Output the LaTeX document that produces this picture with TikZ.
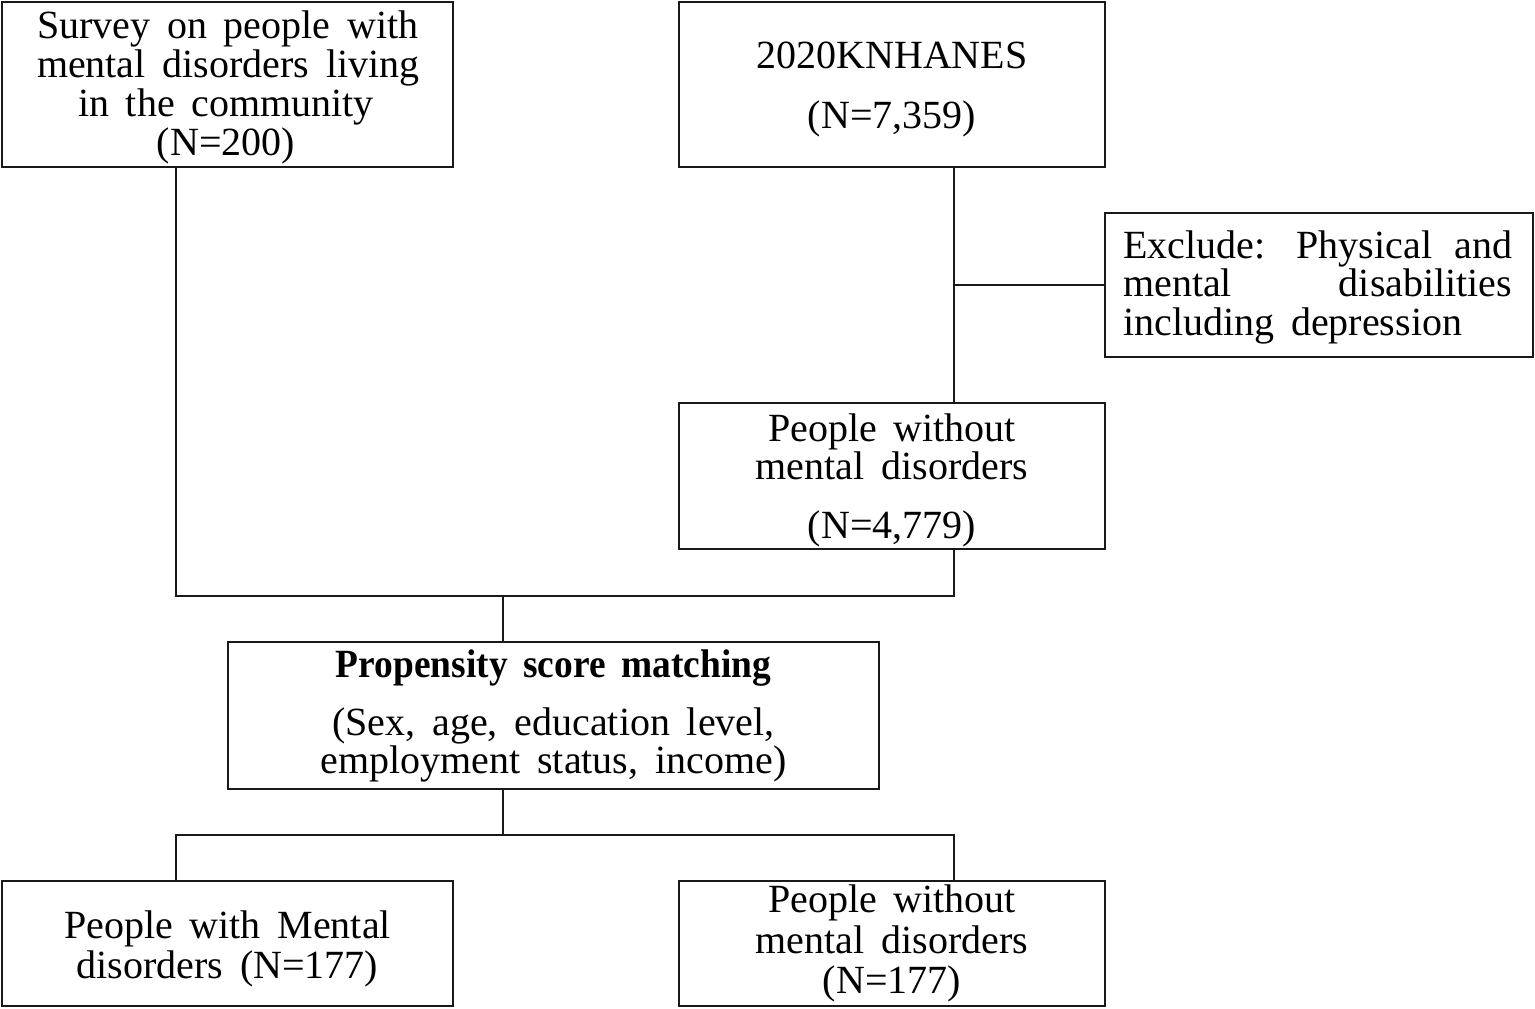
\documentclass[tikz,border=0pt]{standalone}
\usepackage{fontspec}
\usepackage{graphicx}
\setmainfont{Liberation Serif}
\begin{document}
\begin{tikzpicture}[x=1pt,y=-1pt,
  box/.style={draw=black!90, line width=1.6pt, inner sep=0pt, rectangle},
  txt/.style={inner sep=0pt, align=center, font={\fontsize{40}{39}\selectfont\spaceskip=0.42em plus 0.5em\relax}},
  conn/.style={draw=black!90, line width=1.6pt}]
\useasboundingbox (0,0) rectangle (1535,1009);
% boxes
\node[box, minimum width=451pt, minimum height=165pt] (A) at (227.5,84.5) {};
\node[box, minimum width=426pt, minimum height=165pt] (B) at (892,84.5) {};
\node[box, minimum width=428pt, minimum height=144pt] (C) at (1319,285) {};
\node[box, minimum width=426pt, minimum height=146pt] (D) at (892,476) {};
\node[box, minimum width=651pt, minimum height=147pt] (E) at (553.5,715.5) {};
\node[box, minimum width=451pt, minimum height=125pt] (F) at (227.5,943.5) {};
\node[box, minimum width=426pt, minimum height=125pt] (G) at (892,943.5) {};
% texts (anchor base = baseline of last line)
\node[txt, anchor=base] (tA) at (226,155) {\makebox[378pt][s]{Survey on people with}\\\makebox[378pt][s]{mental disorders living}\\in the community\\(N=200)};
\node[txt, anchor=base] (tB) at (892,128) {2020KNHANES\\[21pt](N=7,359)};
\node[txt, anchor=base west, align=left] (tC) at (1123,335) {\makebox[389pt][s]{Exclude: Physical and}\\[-0.5pt]\makebox[389pt][s]{mental disabilities}\\[-0.5pt]including depression};
\node[txt, anchor=base] (tD) at (892,538) {People without\\[-1pt]mental disorders\\[20pt](N=4,779)};
\node[txt, anchor=base] (tE) at (553.5,773) {\scalebox{0.935}[1]{\textbf{Propensity score matching}}\\[19pt](Sex, age, education level,\\[-1pt]employment status, income)};
\node[txt, anchor=base] (tF) at (227.5,978) {People with Mental\\[1pt]disorders (N=177)};
\node[txt, anchor=base] (tG) at (892,993) {People without\\[2pt]mental disorders\\[1pt](N=177)};
% junctions
\coordinate (j1) at (503,596);
\coordinate (j2) at (503,835);
% connectors
\draw[conn] ([xshift=175pt]A.south west) |- (j1) -| ([xshift=276pt]D.south west);
\draw[conn] (j1) -- (j1 |- E.north);
\draw[conn] ([xshift=276pt]B.south west) -- ([xshift=276pt]D.north west);
\draw[conn] (C.west) -- ++(-150,0);
\draw[conn] (j2 |- E.south) -- (j2);
\draw[conn] ([xshift=175pt]F.north west) |- (j2) -| ([xshift=276pt]G.north west);
\end{tikzpicture}
\end{document}
